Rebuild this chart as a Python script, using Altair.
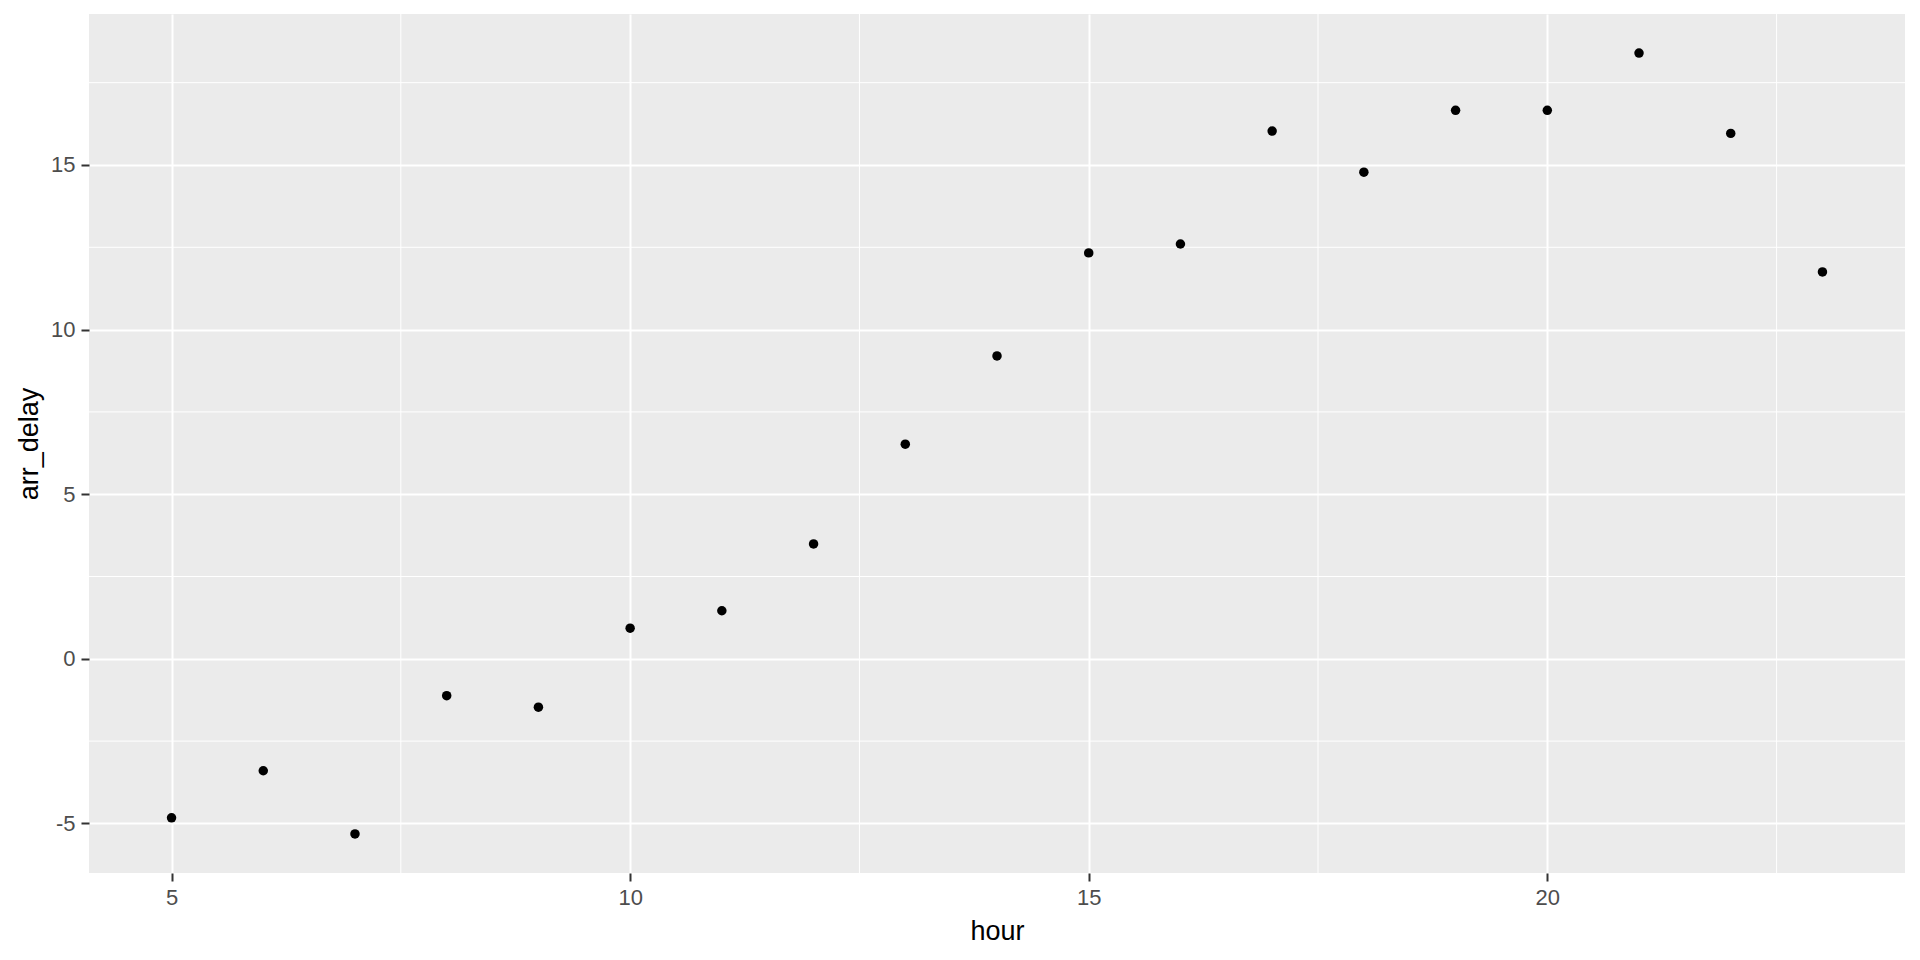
import altair as alt
import pandas as pd

hour = list(range(5, 24))
arr_delay = [-4.83, -3.40, -5.32, -1.12, -1.47, 0.93, 1.46, 3.49, 6.52, 9.20,
             12.33, 12.60, 16.03, 14.78, 16.66, 16.66, 18.40, 15.96, 11.75]

x_breaks = [5, 10, 15, 20]
y_breaks = [-5, 0, 5, 10, 15]
x_minor = [7.5, 12.5, 17.5, 22.5]
y_minor = [-2.5, 2.5, 7.5, 12.5, 17.5]

x_domain = [4.1, 23.9]
y_domain = [-6.506, 19.586]

df = pd.DataFrame({"hour": hour, "arr_delay": arr_delay})
dfx = pd.DataFrame({"hour": x_minor})
dfy = pd.DataFrame({"arr_delay": y_minor})

xscale = alt.Scale(domain=x_domain, nice=False, zero=False)
yscale = alt.Scale(domain=y_domain, nice=False, zero=False)

xaxis = alt.Axis(values=x_breaks, title="hour", titleY=66.5,
                 titleBaseline="alphabetic", labelExpr="toString(datum.value)")
yaxis = alt.Axis(values=y_breaks, title="arr_delay", titleX=-52,
                 titleBaseline="alphabetic", labelExpr="toString(datum.value)")

vminor = alt.Chart(dfx).mark_rule(color="white", strokeWidth=1).encode(
    x=alt.X("hour:Q", scale=xscale, axis=xaxis)
)
hminor = alt.Chart(dfy).mark_rule(color="white", strokeWidth=1).encode(
    y=alt.Y("arr_delay:Q", scale=yscale, axis=yaxis)
)

points = alt.Chart(df).mark_circle(size=90, color="black", opacity=1).encode(
    x=alt.X("hour:Q", scale=xscale, axis=xaxis),
    y=alt.Y("arr_delay:Q", scale=yscale, axis=yaxis),
)

chart = alt.layer(vminor, hminor, points).properties(
    width=1816,
    height=859,
    autosize=alt.AutoSizeParams(type="none"),
    padding={"left": 81, "top": 6, "right": 7, "bottom": 80},
).configure_view(
    fill="#EBEBEB", stroke=None
).configure_axis(
    grid=True, gridColor="white", gridWidth=2,
    domain=False,
    tickColor="#333333", tickSize=8, tickWidth=2,
    labelColor="#4D4D4D", labelFont="Liberation Sans", labelFontSize=22,
    labelPadding=6,
    titleFont="Liberation Sans", titleFontSize=27, titleFontWeight="normal",
    titleColor="black",
)

chart.save("out.html", embed_options={"renderer": "svg", "actions": False})
